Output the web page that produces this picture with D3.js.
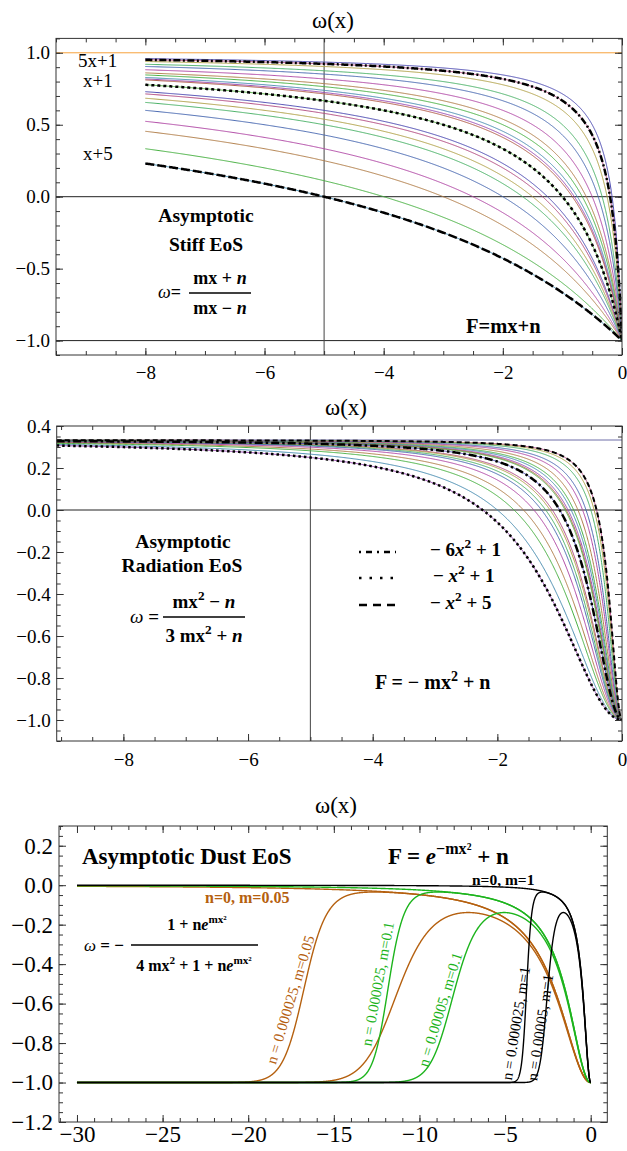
<!DOCTYPE html>
<html>
<head>
<meta charset="utf-8">
<script src="https://cdn.jsdelivr.net/npm/d3@7"></script>
<style>
  body { margin: 0; background: #fff; }
  svg { display: block; font-family: "Liberation Serif", "Times New Roman", serif; }
</style>
</head>
<body>
<svg id="chart" width="627" height="1151"></svg>
<script>
// parameters (m, n) of the stiff and radiation families
var familyM = [6, 5, 4, 3, 5, 2, 5, 3, 4, 5, 6, 1, 4, 3, 2, 3, 1, 2, 1, 1, 1];
var familyN = [1, 1, 1, 1, 2, 1, 3, 2, 3, 4, 5, 1, 5, 4, 3, 5, 2, 5, 3, 4, 5];

// highlighted members
var stiffMarkM = [5, 1, 1];
var stiffMarkN = [1, 1, 5];
var stiffMarkLabels = ['5x+1', 'x+1', 'x+5'];
var radMarkM = [6, 1, 1];
var radMarkN = [1, 1, 5];

// dust curves (n read from where the branches rise in the picture)
var dustM = [0.05, 0.05, 0.05, 0.1, 0.1, 0.1, 1, 1, 1];
var dustN = [0, 0.00005, 0.05, 0, 0.00005, 0.05, 0, 0.00005, 0.05];

// reference lines
var stiffRefY = [0, -1];
var stiffAsymptote = 1;
var radRefY = [0];
var radAsymptote = 1 / 3;
var axisX = -5;

// tick labels
var stiffXTicks = [-8, -6, -4, -2, 0];
var stiffYTicks = [-1, -0.5, 0, 0.5, 1];
var radXTicks = [-8, -6, -4, -2, 0];
var radYTicks = [-1, -0.8, -0.6, -0.4, -0.2, 0, 0.2, 0.4];
var dustXTicks = [-30, -25, -20, -15, -10, -5, 0];
var dustYTicks = [-1.2, -1, -0.8, -0.6, -0.4, -0.2, 0, 0.2];

var palette = ['#4a48b0', '#b0487f', '#b0a048', '#48b065', '#4868b0', '#b048a5',
  '#b07d48', '#48b042', '#488cb0', '#9848b0', '#b05a48', '#5ab048'];
var dustColors = {0.05: '#b5600f', 0.1: '#1db41d', 1: '#000000'};

var svg = d3.select('#chart');

function makePanel(p) {
  var x = d3.scaleLinear().domain(p.xDomain).range([p.left, p.right]);
  var y = d3.scaleLinear().domain(p.yDomain).range([p.bottom, p.top]);
  svg.append('clipPath').attr('id', p.id).append('rect')
    .attr('x', p.left).attr('y', p.top)
    .attr('width', p.right - p.left).attr('height', p.bottom - p.top);
  var plot = svg.append('g').attr('clip-path', 'url(#' + p.id + ')');
  var deco = svg.append('g');
  return {x: x, y: y, plot: plot, deco: deco, p: p};
}

function drawFrame(P) {
  var p = P.p, x = P.x, y = P.y, g = P.deco;
  var xMinor = d3.range(p.xMinor[0], p.xMinor[1] + 1e-9, p.xMinor[2]);
  var yMinor = d3.range(p.yMinor[0], p.yMinor[1] + 1e-9, p.yMinor[2]);

  function put(axis, tx, ty, labels) {
    var a = g.append('g').attr('transform', 'translate(' + tx + ',' + ty + ')').call(axis);
    a.select('.domain').remove();
    a.selectAll('line').attr('stroke', '#333');
    a.selectAll('text').attr('font-size', p.fontSize).attr('fill', '#000')
      .attr('font-family', '"Liberation Serif", serif');
    if (!labels) a.selectAll('text').remove();
    return a;
  }
  put(d3.axisBottom(x).tickValues(xMinor).tickSize(-4).tickFormat(''), 0, p.bottom, false);
  put(d3.axisTop(x).tickValues(xMinor).tickSize(-4).tickFormat(''), 0, p.top, false);
  put(d3.axisLeft(y).tickValues(yMinor).tickSize(-4).tickFormat(''), p.left, 0, false);
  put(d3.axisRight(y).tickValues(yMinor).tickSize(-4).tickFormat(''), p.right, 0, false);

  put(d3.axisBottom(x).tickValues(p.xTicks).tickSize(-7).tickPadding(p.xPad).tickFormat(d3.format('d')), 0, p.bottom, true);
  put(d3.axisTop(x).tickValues(p.xTicks).tickSize(-7).tickFormat(''), 0, p.top, false);
  put(d3.axisLeft(y).tickValues(p.yTicks).tickSize(-7).tickPadding(6).tickFormat(d3.format('.1f')), p.left, 0, true);
  put(d3.axisRight(y).tickValues(p.yTicks).tickSize(-7).tickFormat(''), p.right, 0, false);

  g.append('rect')
    .attr('x', p.left).attr('y', p.top)
    .attr('width', p.right - p.left).attr('height', p.bottom - p.top)
    .attr('fill', 'none').attr('stroke', '#333').attr('stroke-width', 1);

  g.append('text').attr('x', p.titleX).attr('y', p.titleY)
    .attr('font-size', 23).text('ω(x)');
}

function hline(P, v, color) {
  P.plot.append('line')
    .attr('x1', P.p.left).attr('x2', P.p.right)
    .attr('y1', P.y(v)).attr('y2', P.y(v))
    .attr('stroke', color).attr('stroke-width', 1);
}
function vline(P, v, color) {
  P.plot.append('line')
    .attr('x1', P.x(v)).attr('x2', P.x(v))
    .attr('y1', P.p.top).attr('y2', P.p.bottom)
    .attr('stroke', color).attr('stroke-width', 1);
}

// rich text: parts = [{t, i, sup, n}]
function rich(sel, parts, size) {
  var shift = 0;
  parts.forEach(function (q) {
    var ts = sel.append('tspan').text(q.t);
    var target = q.sup ? -size * 0.42 : 0;
    if (target !== shift) { ts.attr('dy', target - shift); shift = target; }
    if (q.sup) ts.attr('font-size', size * 0.7);
    if (q.i) ts.attr('font-style', 'italic');
    if (q.n) ts.attr('font-weight', 'normal');
  });
  return sel;
}
function label(g, x, y, size, opts) {
  opts = opts || {};
  return g.append('text').attr('x', x).attr('y', y)
    .attr('font-size', size)
    .attr('font-weight', opts.bold ? 'bold' : 'normal')
    .attr('text-anchor', opts.anchor || 'start')
    .attr('fill', opts.color || '#000');
}

function sampleX(from, count) {
  // dense near zero, where the curves turn steeply to -1
  return d3.range(0, count + 1).map(function (i) {
    var t = i / count;
    return from * (1 - t) * (1 - t);
  });
}

// ---------------- panel 1: stiff ----------------
var P1 = makePanel({
  id: 'c1', left: 56, right: 622, top: 38.4, bottom: 355,
  xDomain: [-9.5, 0], yDomain: [-1.1, 1.1],
  xTicks: stiffXTicks, yTicks: stiffYTicks,
  xMinor: [-9.5, 0, 0.5], yMinor: [-1.1, 1.1, 0.1],
  fontSize: 19, xPad: 11, titleX: 312, titleY: 28
});
var stiffW = function (m, n, x) { return (m * x + n) / (m * x - n); };
var xs1 = sampleX(-8, 900);
var line1 = d3.line().x(function (d) { return P1.x(d[0]); }).y(function (d) { return P1.y(d[1]); });

hline(P1, stiffAsymptote, '#f7a23c');
stiffRefY.forEach(function (v) { hline(P1, v, '#222'); });
vline(P1, axisX, '#444');

familyM.forEach(function (m, i) {
  var n = familyN[i];
  P1.plot.append('path')
    .datum(xs1.map(function (x) { return [x, stiffW(m, n, x)]; }))
    .attr('d', line1).attr('fill', 'none')
    .attr('stroke', palette[i % palette.length]).attr('stroke-width', 1);
});
var stiffDash = ['7,2.5,2,2.5', '3,3', '9,3'];
stiffMarkM.forEach(function (m, i) {
  var n = stiffMarkN[i];
  P1.plot.append('path')
    .datum(xs1.map(function (x) { return [x, stiffW(m, n, x)]; }))
    .attr('d', line1).attr('fill', 'none')
    .attr('stroke', '#000').attr('stroke-width', 2.5)
    .attr('stroke-dasharray', stiffDash[i]);
});
drawFrame(P1);

var stiffLabelY = [67, 87, 160];
var stiffLabelX = [78, 83, 83];
stiffMarkLabels.forEach(function (s, i) {
  label(P1.deco, stiffLabelX[i], stiffLabelY[i], 19).text(s);
});
label(P1.deco, 206, 222, 19.5, {bold: true, anchor: 'middle'}).text('Asymptotic');
label(P1.deco, 206, 251, 19.5, {bold: true, anchor: 'middle'}).text('Stiff EoS');
rich(label(P1.deco, 158, 298, 18, {bold: true}), [{t: 'ω', i: true, n: true}, {t: '='}], 18);
rich(label(P1.deco, 220, 284, 18, {bold: true, anchor: 'middle'}), [{t: 'mx + '}, {t: 'n', i: true}], 18);
P1.deco.append('line').attr('x1', 189).attr('x2', 251).attr('y1', 293).attr('y2', 293)
  .attr('stroke', '#000').attr('stroke-width', 1.5);
rich(label(P1.deco, 220, 314, 18, {bold: true, anchor: 'middle'}), [{t: 'mx − '}, {t: 'n', i: true}], 18);
label(P1.deco, 466, 333, 20.5, {bold: true}).text('F=mx+n');

// ---------------- panel 2: radiation ----------------
var P2 = makePanel({
  id: 'c2', left: 56.7, right: 622, top: 426, bottom: 741,
  xDomain: [-9.07, 0], yDomain: [-1.1, 0.4],
  xTicks: radXTicks, yTicks: radYTicks,
  xMinor: [-9, 0, 0.5], yMinor: [-1.1, 0.4, 0.05],
  fontSize: 19, xPad: 12, titleX: 325, titleY: 415
});
var radW = function (m, n, x) { return (m * x * x - n) / (3 * m * x * x + n); };
var xs2 = sampleX(-9.07, 900);
var line2 = d3.line().x(function (d) { return P2.x(d[0]); }).y(function (d) { return P2.y(d[1]); });

hline(P2, radAsymptote, '#6e6ea8');
radRefY.forEach(function (v) { hline(P2, v, '#222'); });
vline(P2, axisX, '#444');

familyM.forEach(function (m, i) {
  var n = familyN[i];
  P2.plot.append('path')
    .datum(xs2.map(function (x) { return [x, radW(m, n, x)]; }))
    .attr('d', line2).attr('fill', 'none')
    .attr('stroke', palette[(i + 1) % palette.length]).attr('stroke-width', 1);
});
var radDash = ['5,3', '8,3,2.5,3', '2.5,3'];
radMarkM.forEach(function (m, i) {
  var n = radMarkN[i];
  P2.plot.append('path')
    .datum(xs2.map(function (x) { return [x, radW(m, n, x)]; }))
    .attr('d', line2).attr('fill', 'none')
    .attr('stroke', '#000').attr('stroke-width', i === 0 ? 2 : 2.5)
    .attr('stroke-dasharray', radDash[i]);
});
drawFrame(P2);

label(P2.deco, 183, 548, 19.5, {bold: true, anchor: 'middle'}).text('Asymptotic');
label(P2.deco, 182, 572, 19.5, {bold: true, anchor: 'middle'}).text('Radiation EoS');
rich(label(P2.deco, 130, 623, 19, {bold: true}), [{t: 'ω', i: true, n: true}, {t: ' ='}], 19);
rich(label(P2.deco, 204, 608, 19, {bold: true, anchor: 'middle'}),
  [{t: 'mx'}, {t: '2', sup: true}, {t: ' − '}, {t: 'n', i: true}], 19);
P2.deco.append('line').attr('x1', 163).attr('x2', 245).attr('y1', 617).attr('y2', 617)
  .attr('stroke', '#000').attr('stroke-width', 1.5);
rich(label(P2.deco, 204, 642, 19, {bold: true, anchor: 'middle'}),
  [{t: '3 mx'}, {t: '2', sup: true}, {t: ' + '}, {t: 'n', i: true}], 19);

// legend
var legendDash = ['2,5,6,5', '2.5,8', '8,6'];
var legendText = [
  [{t: '− 6'}, {t: 'x', i: true}, {t: '2', sup: true}, {t: ' + 1'}],
  [{t: '− '}, {t: 'x', i: true}, {t: '2', sup: true}, {t: ' + 1'}],
  [{t: '− '}, {t: 'x', i: true}, {t: '2', sup: true}, {t: ' + 5'}]
];
var legendY = [549, 575, 602];
legendText.forEach(function (parts, i) {
  P2.deco.append('line').attr('x1', 359).attr('x2', 396)
    .attr('y1', legendY[i] + 3).attr('y2', legendY[i] + 3)
    .attr('stroke', '#000').attr('stroke-width', 2.5)
    .attr('stroke-dasharray', legendDash[i]);
  rich(label(P2.deco, i === 1 ? 433 : 430, legendY[i] + 7, 19, {bold: true}), parts, 19);
});
rich(label(P2.deco, 375, 689, 20, {bold: true}),
  [{t: 'F = − mx'}, {t: '2', sup: true}, {t: ' + n'}], 20);

// ---------------- panel 3: dust ----------------
var P3 = makePanel({
  id: 'c3', left: 59, right: 607.3, top: 826, bottom: 1122,
  xDomain: [-31.05, 0.97], yDomain: [-1.2, 0.3],
  xTicks: dustXTicks, yTicks: dustYTicks,
  xMinor: [-31, 0, 1], yMinor: [-1.2, 0.3, 0.05],
  fontSize: 23, xPad: 4, titleX: 315, titleY: 813
});
var dustW = function (m, n, x) {
  var e = n === 0 ? 0 : n * Math.exp(m * x * x);
  if (!isFinite(e)) return -1;
  return -(1 + e) / (4 * m * x * x + 1 + e);
};
var xs3 = d3.range(-30, 0.00001, 0.01);
var line3 = d3.line().x(function (d) { return P3.x(d[0]); }).y(function (d) { return P3.y(d[1]); });

dustM.forEach(function (m, i) {
  var n = dustN[i];
  P3.plot.append('path')
    .datum(xs3.map(function (x) { return [x, dustW(m, n, x)]; }))
    .attr('d', line3).attr('fill', 'none')
    .attr('stroke', dustColors[m]).attr('stroke-width', 1.4);
});
drawFrame(P3);

label(P3.deco, 82, 864, 23, {bold: true}).text('Asymptotic Dust EoS');
rich(label(P3.deco, 388, 864, 23, {bold: true}),
  [{t: 'F = '}, {t: 'e', i: true}, {t: '−mx²', sup: true}, {t: ' + n'}], 23);
label(P3.deco, 472, 885, 15.5, {bold: true}).text('n=0, m=1');
label(P3.deco, 205, 903, 16, {bold: true, color: dustColors[0.05]}).text('n=0, m=0.05');

rich(label(P3.deco, 84, 951, 17, {bold: true}), [{t: 'ω', i: true, n: true}, {t: ' = −'}], 17);
rich(label(P3.deco, 197, 930, 16, {bold: true, anchor: 'middle'}),
  [{t: '1 + n'}, {t: 'e', i: true}, {t: 'mx²', sup: true}], 16);
P3.deco.append('line').attr('x1', 131).attr('x2', 258).attr('y1', 945).attr('y2', 945)
  .attr('stroke', '#000').attr('stroke-width', 1.3);
rich(label(P3.deco, 194, 971, 16, {bold: true, anchor: 'middle'}),
  [{t: '4 mx'}, {t: '2', sup: true}, {t: ' + 1 + n'}, {t: 'e', i: true}, {t: 'mx²', sup: true}], 16);

// rotated labels along the rising branches (data coordinates)
var rotLabels = [
  {t: 'n = 0.000025, m=0.05', x: -17.55, y: -0.58, a: -73, c: dustColors[0.05]},
  {t: 'n = 0.000025, m=0.1', x: -12.45, y: -0.50, a: -79.6, c: dustColors[0.1]},
  {t: 'n = 0.00005, m=0.1', x: -8.8, y: -0.63, a: -73, c: dustColors[0.1]},
  {t: 'n = 0.000025, m=1', x: -4.37, y: -0.70, a: -80.7, c: '#000'},
  {t: 'n = 0.00005, m=1', x: -2.96, y: -0.72, a: -81.3, c: '#000'}
];
rotLabels.forEach(function (r) {
  var px = P3.x(r.x), py = P3.y(r.y);
  P3.deco.append('text')
    .attr('transform', 'translate(' + px + ',' + py + ') rotate(' + r.a + ')')
    .attr('text-anchor', 'middle').attr('dy', '0.35em')
    .attr('font-size', 15).attr('fill', r.c)
    .text(r.t);
});
</script>
</body>
</html>
